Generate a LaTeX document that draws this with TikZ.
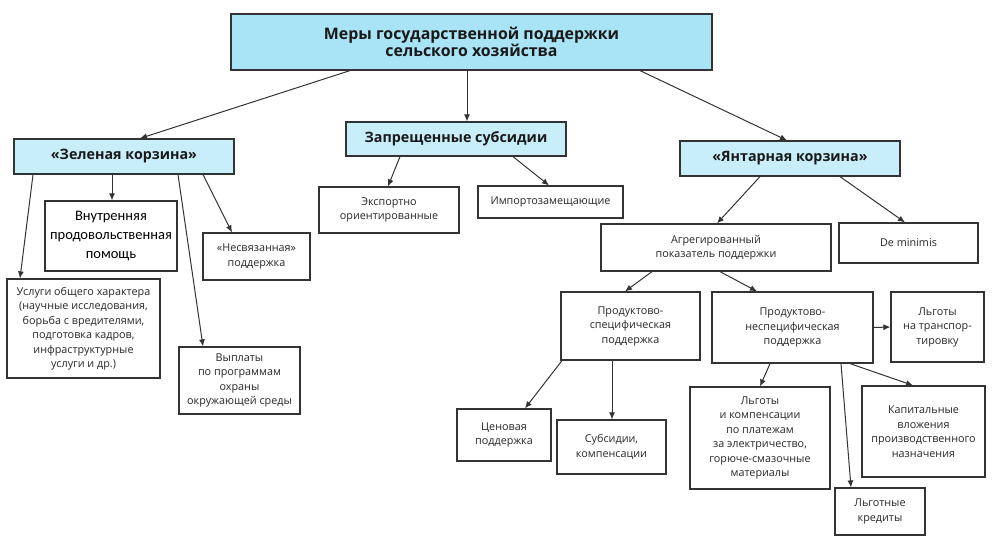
\documentclass[tikz,border=0pt]{standalone}
\usepackage{fontspec}
\setmainfont{Open Sans}
\newfontfamily\calfont{Carlito}
\usetikzlibrary{positioning,shapes,arrows,arrows.meta}

\definecolor{topblue}{HTML}{A9E4F6}
\definecolor{subblue}{HTML}{C8EEF9}
\definecolor{edgegray}{HTML}{333333}

\tikzset{
  box/.style={draw=edgegray, line width=1.2pt, align=center, inner sep=2pt,
    font=\fontsize{10.8}{14.5}\selectfont, text=black!85},
  head/.style={box, fill=subblue, font=\fontsize{14.3}{15}\selectfont\bfseries, text=black!90},
  link/.style={->, draw=edgegray, line width=1pt},
}

\begin{document}
\begin{tikzpicture}[x=1pt, y=-1pt, >={Latex[length=7pt,width=6pt]}]
        \useasboundingbox (0,0) rectangle (996,541);
        % top level
        \node [head, fill=topblue, minimum width=481pt, minimum height=56pt, font=\fontsize{15.9}{14.5}\selectfont\bfseries] (measures) at (471.5,42) {Меры государственной поддержки\\сельского хозяйства};
        \node [head, minimum width=220pt, minimum height=35pt] (green) at (124,156.5) {«Зеленая корзина»};
        \node [head, minimum width=220pt, minimum height=34pt] (banned) at (456,139) {Запрещенные субсидии};
        \node [head, minimum width=220pt, minimum height=35pt] (amber) at (790,158.5) {«Янтарная корзина»};

        % green basket
        \node [box, minimum width=132pt, minimum height=70pt, font=\calfont\fontsize{14.5}{19}\selectfont, text=black] (food) at (111,236) {Внутренняя\\продовольственная\\помощь};
        \node [box, minimum width=153pt, minimum height=99pt] (services) at (83.5,328.5) {Услуги общего характера\\(научные исследования,\\борьба с вредителями,\\подготовка кадров,\\инфраструктурные\\услуги и др.)};
        \node [box, minimum width=107pt, minimum height=47pt] (decoupled) at (256.5,256.5) {«Несвязанная»\\поддержка};
        \node [box, minimum width=121pt, minimum height=67pt] (ecology) at (239.5,380.5) {Выплаты\\по программам\\охраны\\окружающей среды};

        % banned subsidies
        \node [box, minimum width=140pt, minimum height=46pt] (export) at (389,210) {Экспортно\\ориентированные};
        \node [box, minimum width=145pt, minimum height=32pt] (import) at (550.5,202) {Импортозамещающие};

        % amber basket
        \node [box, minimum width=230pt, minimum height=47pt] (ams) at (716,247.5) {Агрегированный\\показатель поддержки};
        \node [box, minimum width=139pt, minimum height=40pt] (minimis) at (908.5,243) {De minimis};
        \node [box, minimum width=139pt, minimum height=68pt] (specific) at (630.5,326) {Продуктово-\\специфическая\\поддержка};
        \node [box, minimum width=161pt, minimum height=71pt] (nonspec) at (792.5,327.5) {Продуктово-\\неспецифическая\\поддержка};
        \node [box, minimum width=93pt, minimum height=70pt] (transport) at (937.5,327) {Льготы\\на транспор-\\тировку};
        \node [box, minimum width=94pt, minimum height=52pt] (price) at (504,435) {Ценовая\\поддержка};
        \node [box, minimum width=109pt, minimum height=54pt] (subsidy) at (611.5,447) {Субсидии,\\компенсации};
        \node [box, minimum width=140pt, minimum height=102pt] (energy) at (760,438) {Льготы\\и компенсации\\по платежам\\за электричество,\\горюче-смазочные\\материалы};
        \node [box, minimum width=90pt, minimum height=47pt] (credits) at (880,511.5) {Льготные\\кредиты};
        \node [box, minimum width=123pt, minimum height=91pt] (capital) at (923.5,431.5) {Капитальные\\вложения\\производственного\\назначения};

        % connectors
        \draw [link] ([xshift=-121.5pt]measures.south) -- ([xshift=16pt]green.north);
        \draw [link] ([xshift=-4.5pt]measures.south) -- ([xshift=11pt]banned.north);
        \draw [link] ([xshift=168.5pt]measures.south) -- ([xshift=-3pt]amber.north);

        \draw [link] ([xshift=-12pt]green.south) -- ([xshift=1pt]food.north);
        \draw [link] ([xshift=-91pt]green.south) -- ([xshift=-63.5pt]services.north);
        \draw [link] ([xshift=54pt]green.south) -- ([xshift=-36.5pt]ecology.north);
        \draw [link] ([xshift=79pt]green.south) -- ([xshift=-24.5pt]decoupled.north);

        \draw [link] ([xshift=-56pt]banned.south) -- ([xshift=-1pt]export.north);
        \draw [link] ([xshift=57pt]banned.south) -- ([xshift=-1.5pt]import.north);

        \draw [link] ([xshift=-30pt]amber.south) -- ([xshift=1pt]ams.north);
        \draw [link] ([xshift=50pt]amber.south) -- ([xshift=-3.5pt]minimis.north);

        \draw [link] ([xshift=-64pt]ams.south) -- ([xshift=-5.5pt]specific.north);
        \draw [link] ([xshift=4pt]ams.south) -- ([xshift=-35.5pt]nonspec.north);
        \draw [link] (nonspec.east) -- (transport.west);

        \draw [link] ([xshift=-68.5pt]specific.south) -- ([xshift=21pt]price.north);
        \draw [link] ([xshift=-18.5pt]specific.south) -- ([xshift=0.5pt]subsidy.north);

        \draw [link] ([xshift=-22.5pt]nonspec.south) -- (energy.north);
        \draw [link] ([xshift=48.5pt]nonspec.south) -- ([xshift=-29pt]credits.north);
        \draw [link] ([xshift=57.5pt]nonspec.south) -- ([xshift=-10.5pt]capital.north);
    \end{tikzpicture}
\end{document}
